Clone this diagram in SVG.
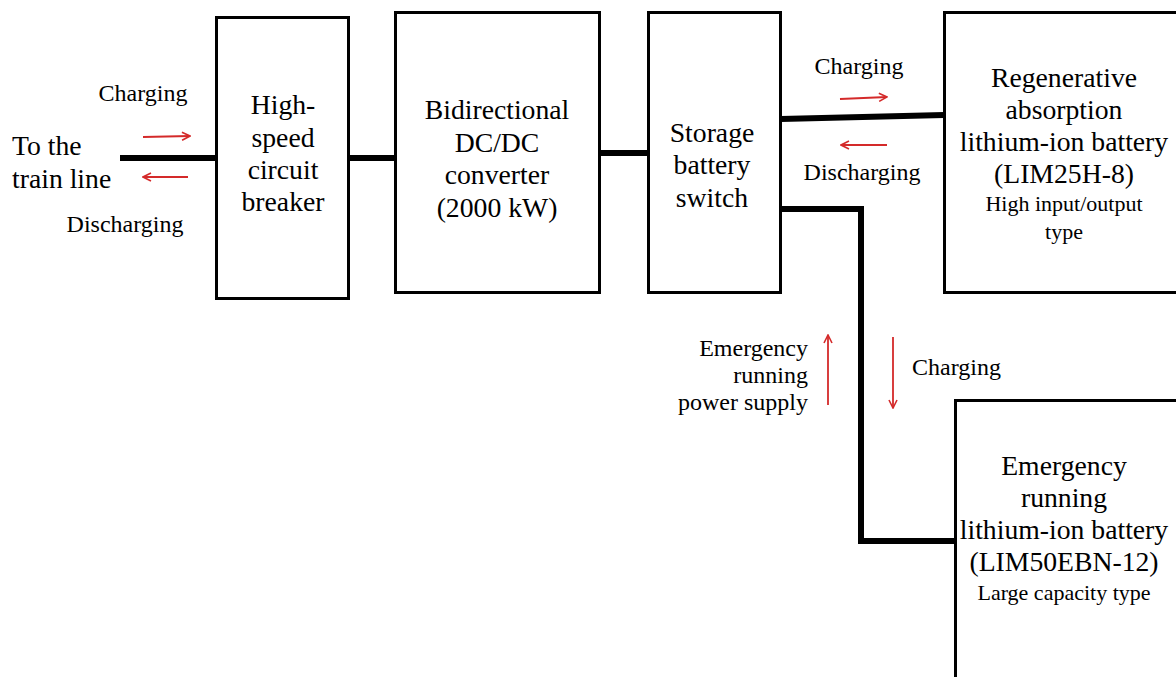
<svg xmlns="http://www.w3.org/2000/svg" width="1176" height="677" viewBox="0 0 1176 677" font-family="'Liberation Serif', 'DejaVu Serif', serif">
<style>
.box{fill:#fff;stroke:#000;stroke-width:3}
.wire{fill:none;stroke:#000;stroke-width:6;stroke-linejoin:miter}
.arr{fill:none;stroke:#d42a2a;stroke-width:1.8}
text{fill:#000}
.lg{font-size:27.7px;text-anchor:middle}
.sm{font-size:24px;text-anchor:middle}
.in{font-size:22px;text-anchor:middle}
</style>
<defs>
<marker id="ah" viewBox="0 0 10 10" refX="9" refY="5" markerWidth="10" markerHeight="10" markerUnits="userSpaceOnUse" orient="auto">
<path d="M1,1 L9,5 L1,9" fill="none" stroke="#d42a2a" stroke-width="1.6"/>
</marker>
</defs>
<rect width="1176" height="677" fill="#fff"/>
<g id="connectors">
<path class="wire" d="M120,158 H216"/>
<path class="wire" d="M349,158 H395"/>
<path class="wire" d="M600,153 H648"/>
<path class="wire" d="M781,119 L944,115"/>
<path class="wire" d="M781,209 H861 V541 H955"/>
</g>
<g id="flow-arrows">
<path class="arr" d="M143,137 L190,136" marker-end="url(#ah)"/>
<path class="arr" d="M188,177 L143,177" marker-end="url(#ah)"/>
<path class="arr" d="M840,99 L887,97" marker-end="url(#ah)"/>
<path class="arr" d="M887,145 L841,145" marker-end="url(#ah)"/>
<path class="arr" d="M828,405 L828,335" marker-end="url(#ah)"/>
<path class="arr" d="M893,337 L893,408" marker-end="url(#ah)"/>
</g>
<g id="labels">
<text x="12" y="155" font-size="27.7">To the</text>
<text x="12" y="188" font-size="27.7">train line</text>
<text class="sm" x="143" y="101">Charging</text>
<text class="sm" x="125" y="232">Discharging</text>
<text class="sm" x="859" y="74">Charging</text>
<text class="sm" x="862" y="180">Discharging</text>
<text font-size="24" text-anchor="end" x="808" y="356">Emergency</text>
<text font-size="24" text-anchor="end" x="808" y="383">running</text>
<text font-size="24" text-anchor="end" x="808" y="410">power supply</text>
<text font-size="24" x="912" y="375">Charging</text>
</g>
<g id="breaker">
<rect class="box" x="216.5" y="17.5" width="132" height="281"/>
<text class="lg" x="283" y="114">High-</text>
<text class="lg" x="283" y="147">speed</text>
<text class="lg" x="283" y="179">circuit</text>
<text class="lg" x="283" y="211">breaker</text>
</g>
<g id="converter">
<rect class="box" x="395.5" y="12.5" width="204" height="280"/>
<text class="lg" x="497" y="119">Bidirectional</text>
<text class="lg" x="497" y="152">DC/DC</text>
<text class="lg" x="497" y="184">converter</text>
<text class="lg" x="497" y="217">(2000 kW)</text>
</g>
<g id="switch">
<rect class="box" x="648.5" y="12.5" width="132" height="280"/>
<text class="lg" x="712" y="142">Storage</text>
<text class="lg" x="712" y="174">battery</text>
<text class="lg" x="712" y="207">switch</text>
</g>
<g id="regen-battery">
<rect class="box" x="944.5" y="12.5" width="240" height="280"/>
<text class="lg" x="1064" y="87">Regenerative</text>
<text class="lg" x="1064" y="119">absorption</text>
<text class="lg" x="1064" y="151">lithium-ion battery</text>
<text class="lg" x="1064" y="183">(LIM25H-8)</text>
<text class="in" x="1064" y="211">High input/output</text>
<text class="in" x="1064" y="239">type</text>
</g>
<g id="emergency-battery">
<rect class="box" x="955.5" y="400.5" width="240" height="290"/>
<text class="lg" x="1064" y="475">Emergency</text>
<text class="lg" x="1064" y="507">running</text>
<text class="lg" x="1064" y="539">lithium-ion battery</text>
<text class="lg" x="1064" y="571">(LIM50EBN-12)</text>
<text class="in" x="1064" y="600">Large capacity type</text>
</g>
</svg>
